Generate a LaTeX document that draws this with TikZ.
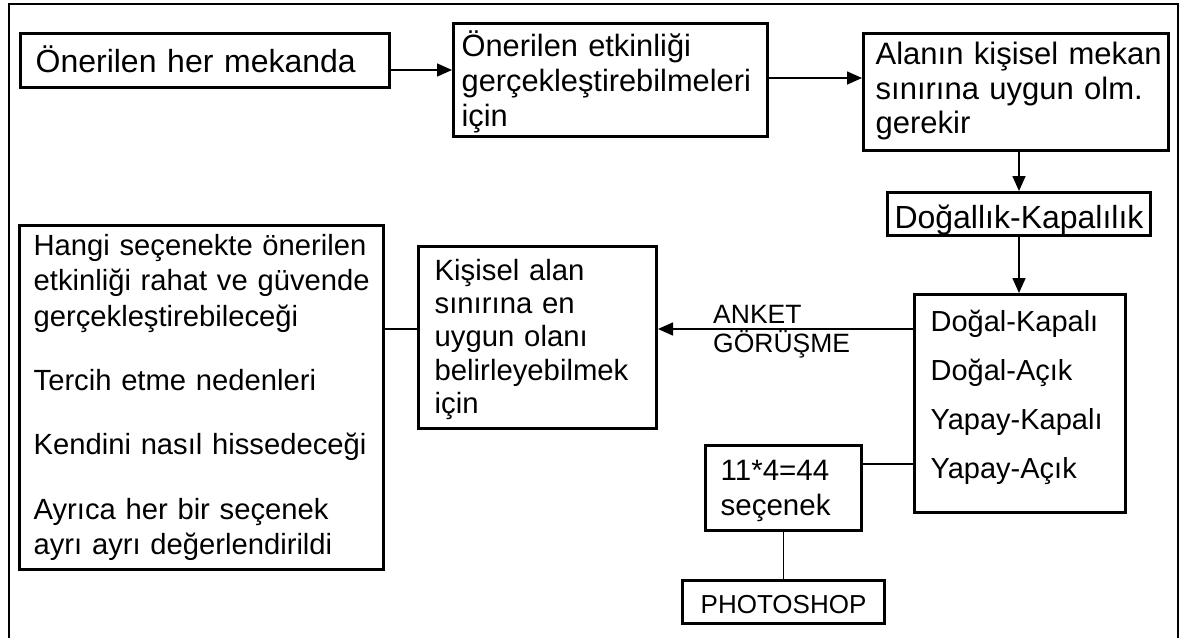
\documentclass[tikz,border=0pt]{standalone}
\usepackage{fontspec}
\setmainfont{Liberation Sans}
\usetikzlibrary{arrows.meta}
\newcommand\fsz[2]{\fontsize{#1pt}{#2pt}\selectfont}
\newcommand\nb[1]{\mbox{#1}}
\begin{document}
\begin{tikzpicture}[x=1pt,y=-1pt,
  box/.style={draw, line width=3.3pt, inner ysep=0pt, align=left, text depth=0pt},
  mbox/.style={box, text height=0pt},
  conn/.style={line width=1.6pt},
  arr/.style={conn, -{Triangle[length=15pt,width=13pt]}},
  frame/.style={line width=2.5pt}
]
\useasboundingbox (0,0) rectangle (1182,637);
\draw[frame] (9,645) -- (9,4) -- (1178,4) -- (1178,645);

\node[box, inner xsep=15pt, text width=338.7pt, minimum height=53.7pt, text height=23pt, font=\fsz{32}{37}] (b1) at (205,60.5) {\nb{Önerilen her mekanda}};
\node[mbox, inner xsep=8pt, text width=297.7pt, minimum height=112.7pt, text depth=48pt, font=\fsz{30.8}{35}] (b2) at (610.5,80) {\nb{Önerilen etkinliği}\\\nb{gerçekleştirebilmeleri}\\\nb{için}};
\node[mbox, inner xsep=12pt, text width=280.7pt, minimum height=116.7pt, text depth=55pt, font=\fsz{31}{34.5}] (b3) at (1016,92) {\nb{Alanın kişisel mekan}\\\nb{sınırına uygun olm.}\\\nb{gerekir}};
\node[box, align=center, minimum width=262.7pt, minimum height=42.7pt, text height=28pt, font=\fsz{32}{37}] (b4) at (1019,214) {Doğallık-Kapalılık};
\node[mbox, inner xsep=16pt, text width=178.7pt, minimum height=217.7pt, text depth=145pt, font=\fsz{29}{49.3}] (b5) at (1020,403.5) {\nb{Doğal-Kapalı}\\\nb{Doğal-Açık}\\\nb{Yapay-Kapalı}\\\nb{Yapay-Açık}};
\node[mbox, inner xsep=16pt, text width=205.7pt, minimum height=181.7pt, text depth=115pt, font=\fsz{29.3}{33.4}] (b6) at (537.5,337.5) {\nb{Kişisel alan}\\\nb{sınırına en}\\\nb{uygun olanı}\\\nb{belirleyebilmek}\\\nb{için}};
\node[mbox, inner xsep=14pt, text width=335.7pt, minimum height=343.7pt, text depth=284pt, font=\fsz{29.2}{35.3}] (b7) at (201.5,397.5) {\nb{Hangi seçenekte önerilen}\\\nb{etkinliği rahat ve güvende}\\\nb{gerçekleştirebileceği}\\[29pt]\nb{Tercih etme nedenleri}\\[29pt]\nb{Kendini nasıl hissedeceği}\\[29pt]\nb{Ayrıca her bir seçenek}\\\nb{ayrı ayrı değerlendirildi}};
\node[mbox, inner xsep=15pt, text width=125.7pt, minimum height=84.7pt, text depth=16pt, font=\fsz{29.5}{35}] (b8) at (783.5,488) {\nb{11*4=44}\\\nb{seçenek}};
\node[box, align=center, minimum width=201.7pt, minimum height=42.7pt, text height=22pt, font=\fsz{26}{30}] (b9) at (783.5,602) {PHOTOSHOP};
\node[anchor=west, inner sep=0pt, align=left, text height=29pt, text depth=0pt, font=\fsz{26.5}{29}] (lbl) at (713,337.5) {ANKET\\GÖRÜŞME};

\draw[arr] ([yshift=-9.5pt]b1.east) coordinate (c1) -- (c1 -| b2.west);
\draw[arr] ([yshift=2pt]b2.east) coordinate (c2) -- (c2 -| b3.west);
\draw[arr] (b4.north |- b3.south) -- (b4.north);
\draw[arr] (b4.south) -- (b4.south |- b5.north);
\draw[arr] ([yshift=74.5pt]b5.west) coordinate (c5) -- (c5 -| b6.east);
\draw[conn] (b7.east |- c5) -- (b6.west |- c5);
\draw[conn] ([yshift=24pt]b8.east) coordinate (c8) -- (c8 -| b5.west);
\draw[conn] (b8.south) -- (b9.north);
\end{tikzpicture}
\end{document}
